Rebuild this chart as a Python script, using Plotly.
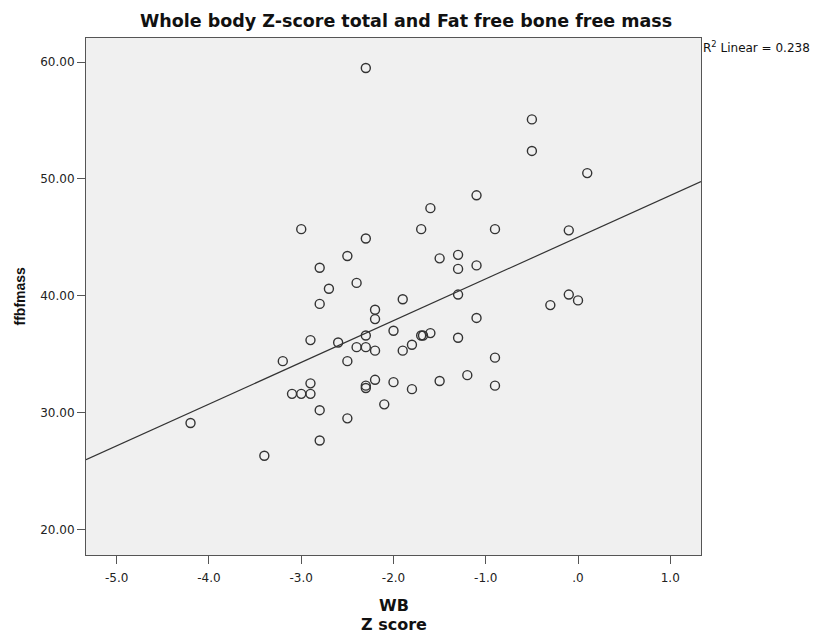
import numpy as np
import plotly.graph_objects as go

# Data
wb_z = [-4.2, -3.4, -3.2, -3.1, -3.0, -3.0, -2.9, -2.9, -2.9, -2.8, -2.8, -2.8, -2.8,
        -2.7, -2.6, -2.5, -2.5, -2.5, -2.4, -2.4, -2.3, -2.3, -2.3, -2.3, -2.3, -2.3,
        -2.2, -2.2, -2.2, -2.2, -2.1, -2.0, -2.0, -1.9, -1.9, -1.8, -1.8, -1.7, -1.68,
        -1.7, -1.6, -1.6, -1.5, -1.5, -1.3, -1.3, -1.3, -1.3, -1.2, -1.1, -1.1, -1.1,
        -0.9, -0.9, -0.9, -0.5, -0.5, -0.3, -0.1, -0.1, 0.0, 0.1]
ffbfmass = [29.1, 26.3, 34.4, 31.6, 31.6, 45.7, 31.6, 32.5, 36.2, 27.6, 30.2, 39.3, 42.4,
            40.6, 36.0, 29.5, 34.4, 43.4, 35.6, 41.1, 32.1, 32.3, 35.6, 36.6, 44.9, 59.5,
            32.8, 35.3, 38.0, 38.8, 30.7, 32.6, 37.0, 35.3, 39.7, 32.0, 35.8, 36.6, 36.6,
            45.7, 36.8, 47.5, 32.7, 43.2, 36.4, 40.1, 42.3, 43.5, 33.2, 38.1, 42.6, 48.6,
            32.3, 34.7, 45.7, 52.4, 55.1, 39.2, 40.1, 45.6, 39.6, 50.5]

x_tick_vals = [-5.0, -4.0, -3.0, -2.0, -1.0, 0.0, 1.0]
x_tick_text = ["-5.0", "-4.0", "-3.0", "-2.0", "-1.0", ".0", "1.0"]
y_tick_vals = [20, 30, 40, 50, 60]
y_tick_text = ["20.00", "30.00", "40.00", "50.00", "60.00"]
x_range = [-5.333, 1.333]
y_range = [17.8, 62.07]
r2_label = "R<sup>2</sup> Linear = 0.238"

slope, intercept = np.polyfit(wb_z, ffbfmass, 1)
fit_x = np.array(x_range)
fit_y = intercept + slope * fit_x

WIDE = "DejaVu Sans, Verdana, sans-serif"
ARIAL = "Liberation Sans, Arial, sans-serif"

fig = go.Figure()
fig.add_trace(go.Scatter(
    x=fit_x, y=fit_y, mode="lines",
    line=dict(color="#333333", width=1.2), hoverinfo="skip", showlegend=False))
fig.add_trace(go.Scatter(
    x=wb_z, y=ffbfmass, mode="markers",
    marker=dict(symbol="circle-open", size=9, color="#333333", line=dict(width=1.4)),
    showlegend=False))

fig.update_layout(
    width=816, height=637,
    margin=dict(l=86, r=115, t=38, b=82),
    paper_bgcolor="white", plot_bgcolor="#F0F0F0",
    font=dict(family=WIDE, size=12, color="#222222"),
    annotations=[
        dict(text="<b>Whole body Z-score total and Fat free bone free mass</b>",
             xref="paper", yref="paper", x=0.52, y=1.0, yshift=17,
             xanchor="center", yanchor="middle", showarrow=False,
             font=dict(size=17.5, color="#111111", family=WIDE)),
        dict(text=r2_label, xref="paper", yref="paper", x=1.0, y=1.0, yshift=-9,
             xanchor="left", yanchor="middle", showarrow=False,
             font=dict(size=12, color="#111111", family=WIDE)),
        dict(text="<b>WB</b>", xref="paper", yref="paper", x=0.5, y=0, yshift=-50,
             xanchor="center", yanchor="middle", showarrow=False,
             font=dict(size=16, color="#111111", family=WIDE)),
        dict(text="<b>Z score</b>", xref="paper", yref="paper", x=0.5, y=0, yshift=-69,
             xanchor="center", yanchor="middle", showarrow=False,
             font=dict(size=16, color="#111111", family=WIDE)),
        dict(text="<b>ffbfmass</b>", xref="paper", yref="paper", x=0, xshift=-67, y=0.5,
             xanchor="center", yanchor="middle", showarrow=False, textangle=-90,
             font=dict(size=14, color="#111111", family=ARIAL)),
    ],
)
fig.update_xaxes(
    range=x_range, tickvals=x_tick_vals, ticktext=x_tick_text,
    showgrid=False, zeroline=False, showline=True, linecolor="#555555", linewidth=1,
    mirror=True, ticks="outside", ticklen=8, tickcolor="#555555",
    ticklabelstandoff=4,
    tickfont=dict(size=12, color="#222222", family=WIDE))
fig.update_yaxes(
    range=y_range, tickvals=y_tick_vals, ticktext=y_tick_text,
    showgrid=False, zeroline=False, showline=True, linecolor="#555555", linewidth=1,
    mirror=True, ticks="outside", ticklen=8, tickcolor="#555555",
    tickfont=dict(size=12, color="#222222", family=WIDE))

fig.write_html("out.html")
